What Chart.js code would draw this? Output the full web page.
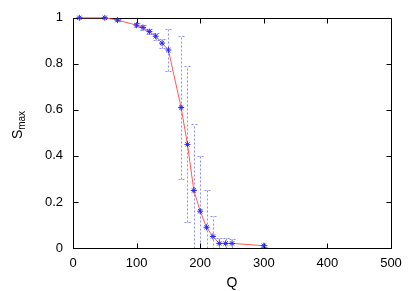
<!DOCTYPE html>
<html>
<head>
<meta charset="utf-8">
<script src="https://cdn.jsdelivr.net/npm/chart.js@4/dist/chart.umd.min.js"></script>
<style>
  html, body { margin: 0; padding: 0; background: #fff; }
</style>
</head>
<body>
<canvas id="chart" width="415" height="291"></canvas>
<script>
// Q values and the measured S_max
const Q = [10, 50, 70, 100, 110, 120, 130, 140, 150, 170, 180, 190, 200, 210, 220, 230, 240, 250, 300];
const S_MAX = [1, 1, 0.99, 0.968, 0.958, 0.94, 0.92, 0.89, 0.86, 0.61, 0.45, 0.25, 0.16, 0.09, 0.05, 0.02, 0.02, 0.02, 0.01];
// error bar ends (below / above)
const ERR_LOW = [1, 1, 0.985, 0.96, 0.948, 0.928, 0.905, 0.87, 0.77, 0.30, 0.115, -0.05, -0.08, -0.07, -0.04, 0, 0, 0, 0.005];
const ERR_HIGH = [1, 1, 0.995, 0.976, 0.968, 0.952, 0.935, 0.91, 0.95, 0.92, 0.79, 0.54, 0.40, 0.25, 0.14, 0.045, 0.045, 0.04, 0.015];

const X_TICKS = [0, 100, 200, 300, 400, 500];
const Y_TICKS = [0, 0.2, 0.4, 0.6, 0.8, 1];

const FONT = '"Liberation Sans", Arial, Helvetica, sans-serif';
const ERR_COLOR = "#8c8cff";
const TICK_LEN = 5;

// gnuplot-like frame: box, inward ticks on all four sides, error bars, axis titles
const gnuplotFrame = {
  id: "gnuplotFrame",
  beforeDatasetsDraw(chart) {
    const { ctx, chartArea: a, scales: { x, y } } = chart;
    const L = Math.round(a.left) + 0.5, R = Math.round(a.right) + 0.5;
    const T = Math.round(a.top) + 0.5, B = Math.round(a.bottom) + 0.5;

    // error bars, dashed, clipped to the plot
    ctx.save();
    ctx.beginPath();
    ctx.rect(a.left, a.top, a.right - a.left, a.bottom - a.top + 1);
    ctx.clip();
    ctx.strokeStyle = ERR_COLOR;
    ctx.lineWidth = 1;
    ctx.setLineDash([2, 2]);
    Q.forEach((q, i) => {
      if (ERR_HIGH[i] - ERR_LOW[i] <= 0) return;
      const px = Math.round(x.getPixelForValue(q)) + 0.5;
      const lo = Math.round(y.getPixelForValue(ERR_LOW[i])) + 0.5;
      const hi = Math.round(y.getPixelForValue(ERR_HIGH[i])) + 0.5;
      ctx.beginPath();
      ctx.moveTo(px, lo); ctx.lineTo(px, hi);
      ctx.moveTo(px - 3, lo); ctx.lineTo(px + 3, lo);
      ctx.moveTo(px - 3, hi); ctx.lineTo(px + 3, hi);
      ctx.stroke();
    });
    ctx.restore();

    // border and ticks
    ctx.save();
    ctx.strokeStyle = "#000";
    ctx.lineWidth = 1;
    ctx.beginPath();
    ctx.rect(L, T, R - L, B - T);
    for (const v of X_TICKS) {
      const px = Math.round(x.getPixelForValue(v)) + 0.5;
      ctx.moveTo(px, B); ctx.lineTo(px, B - TICK_LEN);
      ctx.moveTo(px, T); ctx.lineTo(px, T + TICK_LEN);
    }
    for (const v of Y_TICKS) {
      const py = Math.round(y.getPixelForValue(v)) + 0.5;
      ctx.moveTo(L, py); ctx.lineTo(L + TICK_LEN, py);
      ctx.moveTo(R, py); ctx.lineTo(R - TICK_LEN, py);
    }
    ctx.stroke();
    ctx.restore();
  },
  afterDraw(chart) {
    const { ctx, chartArea: a } = chart;
    ctx.save();
    ctx.fillStyle = "#000";
    // x title
    ctx.font = "14px " + FONT;
    ctx.textAlign = "center";
    ctx.textBaseline = "middle";
    ctx.fillText("Q", (a.left + a.right) / 2, 283);
    // y title with subscript
    ctx.translate(17, 125);
    ctx.rotate(-Math.PI / 2);
    ctx.font = "14px " + FONT;
    const wS = ctx.measureText("S").width;
    ctx.font = "10px " + FONT;
    const wSub = ctx.measureText("max").width;
    const start = -(wS + wSub) / 2;
    ctx.textAlign = "left";
    ctx.textBaseline = "alphabetic";
    ctx.font = "14px " + FONT;
    ctx.fillText("S", start, 5);
    ctx.font = "10px " + FONT;
    ctx.fillText("max", start + wS, 8);
    ctx.restore();
  }
};

new Chart(document.getElementById("chart"), {
  type: "line",
  data: {
    datasets: [{
      label: "S_max",
      data: Q.map((q, i) => ({ x: q, y: S_MAX[i] })),
      borderColor: "#ff5a5a",
      borderWidth: 1,
      tension: 0,
      fill: false,
      pointStyle: "star",
      pointRadius: 3,
      pointBorderWidth: 1,
      pointBorderColor: "#2525ff",
      pointBackgroundColor: "#2525ff",
      clip: false
    }]
  },
  options: {
    responsive: false,
    animation: false,
    devicePixelRatio: 1,
    layout: { padding: { top: 17, right: 24, left: 0, bottom: 0 } },
    plugins: {
      legend: { display: false },
      tooltip: { enabled: false }
    },
    scales: {
      x: {
        type: "linear",
        min: 0,
        max: 500,
        afterFit: (scale) => { scale.height = 43; },
        afterBuildTicks: (scale) => { scale.ticks = X_TICKS.map((v) => ({ value: v })); },
        grid: { display: false, drawTicks: false },
        border: { display: false },
        ticks: { color: "#000", font: { family: FONT, size: 13 }, padding: 8, maxRotation: 0 }
      },
      y: {
        type: "linear",
        min: 0,
        max: 1,
        afterFit: (scale) => { scale.width = 73; },
        afterBuildTicks: (scale) => { scale.ticks = Y_TICKS.map((v) => ({ value: v })); },
        grid: { display: false, drawTicks: false },
        border: { display: false },
        ticks: {
          color: "#000",
          font: { family: FONT, size: 13 },
          padding: 10,
          callback: (v) => String(v)
        }
      }
    }
  },
  plugins: [gnuplotFrame]
});
</script>
</body>
</html>
